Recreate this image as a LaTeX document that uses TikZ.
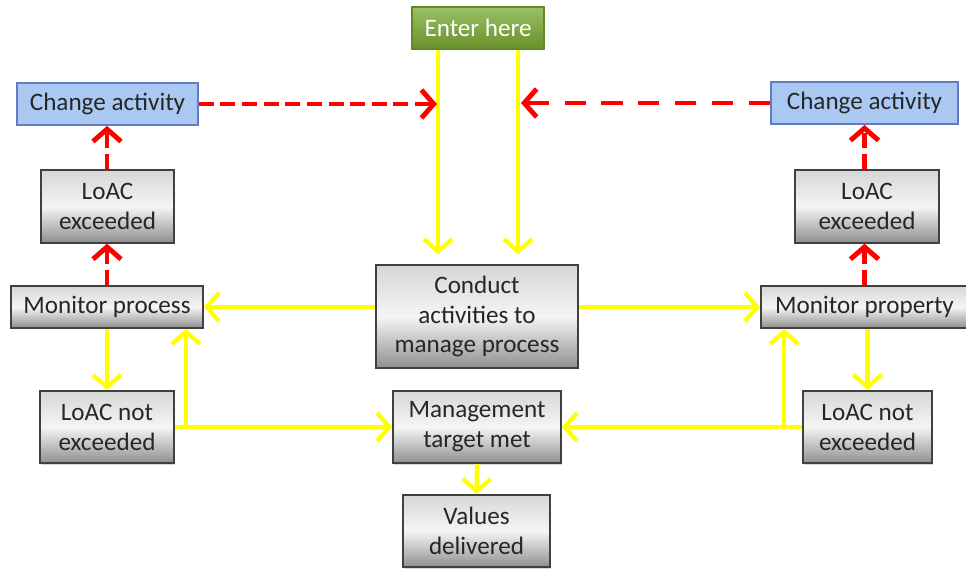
\documentclass[tikz,border=0pt]{standalone}
\usepackage{fontspec}
\setmainfont{Carlito}
\usetikzlibrary{arrows.meta,shadows}
\definecolor{yline}{HTML}{FFFF00}
\definecolor{entgreen}{HTML}{7AAA32}
\definecolor{chgblue}{HTML}{A9C9F2}

\begin{document}
\begin{tikzpicture}[x=0.2mm, y=-0.2mm,
  yarrow/.style={draw=yline, line width=2.4pt, -{Straight Barb[length=7pt,width=16pt]}},
  rarrow/.style={draw=red, line width=2.8pt, dash pattern=on 8.5pt off 3.8pt,
                 -{Straight Barb[length=7pt,width=16pt]}}]
\tikzset{every node/.style={font=\fontsize{14.3}{17}\selectfont, align=center, inner sep=0pt,
                            text=black!85}}
\tikzset{box/.style={draw=black!75, line width=1pt, top color=black!16, bottom color=black!44,
                     middle color=black!4, minimum height=14.5mm,
                     drop shadow={shadow xshift=0.8pt, shadow yshift=-0.8pt, opacity=0.3}},
         chgbox/.style={draw=blue!25!chgblue!80!black, line width=1pt, fill=chgblue, minimum height=8.4mm},
         entbox/.style={draw=entgreen!80!black, line width=0.8pt, top color=entgreen!75!white,
                        bottom color=entgreen!85!black, text=white, minimum height=8.4mm}}
%\tikzset{every node/.style={draw, font=\sffamily}}
\useasboundingbox (0,0) rectangle (966,569);

\node[entbox, minimum width=26.4mm] (enter) at (478,28) {Enter here};
\node[chgbox, minimum width=36.2mm] (chgL) at (107.5,104) {Change activity};
\node[chgbox, minimum width=37.4mm] (chgR) at (864.5,103) {Change activity};
\node[box, minimum width=26.6mm] (excL) at (107.5,206.5) {LoAC\\exceeded};
\node[box, minimum width=28.8mm] (excR) at (867,206.5) {LoAC\\exceeded};
\node[box, minimum width=38.4mm, minimum height=8.4mm] (monL) at (107,307) {Monitor process};
\node[box, minimum width=41.4mm, minimum height=8.4mm] (monR) at (864.5,307) {Monitor property};
\node[box, minimum width=40.4mm, minimum height=20.6mm] (act) at (477,316.5)
    {Conduct\\activities to\\manage process};
\node[box, minimum width=26.8mm] (notL) at (107,427) {LoAC not\\exceeded};
\node[box, minimum width=33.6mm] (mgmt) at (477,427) {Management\\target met};
\node[box, minimum width=25.8mm] (notR) at (867.5,427) {LoAC not\\exceeded};
\node[box, minimum width=29.4mm] (val) at (476.5,531) {Values\\delivered};

% way in
\draw[yarrow, shorten >=2mm] ([xshift=-8mm]enter.south) -- ([xshift=-8mm]enter.south |- act.north);
\draw[yarrow, shorten >=2mm] ([xshift=8mm]enter.south) -- ([xshift=8mm]enter.south |- act.north);
\coordinate (hitL) at ([xshift=-8.2mm]enter.south |- chgL.east);
\coordinate (hitR) at ([xshift=8.6mm]enter.south |- chgR.west);
\draw[rarrow] (chgL.east) -- (hitL);
\draw[rarrow, dash pattern=on 12pt off 9pt] (chgR.west) -- (hitR);

% left side
\draw[yarrow] (act.west |- monL.east) -- (monL.east);
\draw[rarrow] (monL.north) -- (monL.north |- excL.south);
\draw[rarrow] (monL.north |- excL.north) -- (monL.north |- chgL.south);
\draw[yarrow] (monL.south) -- (notL.north);
\draw[yarrow] (notL.east) -- (mgmt.west);
\coordinate (jL) at ([xshift=2.2mm]notL.east);
\draw[yarrow] (jL) -- (jL |- monL.south);

% right side
\draw[yarrow] (act.east |- monR.west) -- (monR.west);
\draw[rarrow] (monR.north) -- (monR.north |- excR.south);
\draw[rarrow] (monR.north |- excR.north) -- (monR.north |- chgR.south);
\draw[yarrow] (notR.north |- monR.south) -- (notR.north);
\draw[yarrow] (notR.west) -- (mgmt.east);
\coordinate (jR) at ([xshift=-3.6mm]notR.west);
\draw[yarrow] (jR) -- (jR |- monR.south);

\draw[yarrow] (mgmt.south) -- (val.north);
\end{tikzpicture}
\end{document}
